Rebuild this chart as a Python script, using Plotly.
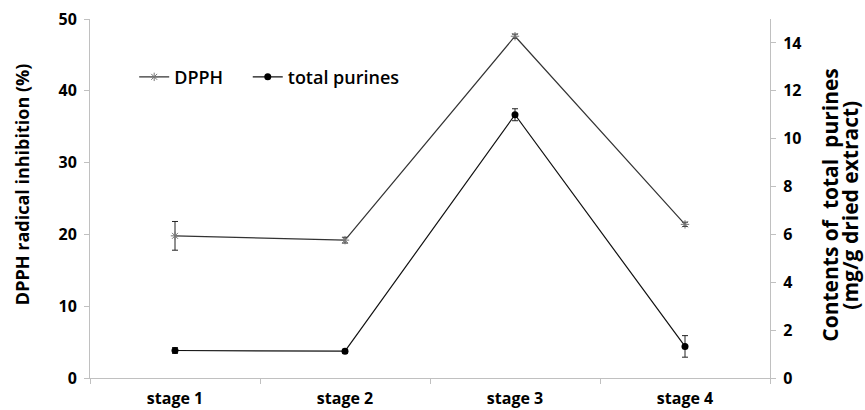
import plotly.graph_objects as go

# Harvest stages
stages = ["stage 1", "stage 2", "stage 3", "stage 4"]

# DPPH radical inhibition (%), mean and SD
dpph = [19.8, 19.2, 47.6, 21.4]
dpph_sd = [2.0, 0.4, 0.3, 0.3]

# Total purine content (mg/g dried extract), mean and SD
purines = [1.15, 1.12, 11.0, 1.32]
purines_sd = [0.12, 0.08, 0.25, 0.45]

left_ticks = [0, 10, 20, 30, 40, 50]
right_ticks = [0, 2, 4, 6, 8, 10, 12, 14]

FONT = "Open Sans"
AXIS_GREY = "#c0c0c0"
TICK_FONT = dict(size=16, family=FONT, weight="bold")
LEGEND_FONT = dict(size=18, family=FONT, weight=600)

fig = go.Figure()

fig.add_trace(go.Scatter(
    x=stages, y=dpph, name="DPPH", mode="lines+markers",
    line=dict(color="#333333", width=1.2),
    marker=dict(symbol="asterisk-open", size=7, color="#777777",
                line=dict(color="#777777", width=1)),
    error_y=dict(type="data", array=dpph_sd, visible=True,
                 color="#222222", thickness=1, width=3),
    yaxis="y", legend="legend",
))

fig.add_trace(go.Scatter(
    x=stages, y=purines, name="total purines", mode="lines+markers",
    line=dict(color="#111111", width=1.2),
    marker=dict(symbol="circle", size=7, color="#000000"),
    error_y=dict(type="data", array=purines_sd, visible=True,
                 color="#222222", thickness=1, width=3),
    yaxis="y2", legend="legend2",
))

fig.update_layout(
    width=865, height=410,
    margin=dict(l=90, r=95, t=19, b=32, autoexpand=False),
    paper_bgcolor="white", plot_bgcolor="white",
    font=dict(family=FONT, color="#000000"),
    showlegend=True,
    legend=dict(
        x=0.065, y=0.838, xanchor="left", yanchor="middle",
        bgcolor="rgba(0,0,0,0)", font=LEGEND_FONT, itemwidth=30,
    ),
    legend2=dict(
        x=0.232, y=0.838, xanchor="left", yanchor="middle",
        bgcolor="rgba(0,0,0,0)", font=LEGEND_FONT, itemwidth=30,
    ),
    xaxis=dict(
        type="category", range=[-0.5, 3.5], automargin=False,
        showline=True, linecolor=AXIS_GREY, linewidth=1,
        ticks="outside", tickson="boundaries", ticklen=5, tickcolor=AXIS_GREY,
        showgrid=False, zeroline=False,
        tickfont=TICK_FONT, ticklabelstandoff=6,
    ),
    yaxis=dict(
        range=[0, 50], tickvals=left_ticks, automargin=False,
        showline=True, linecolor=AXIS_GREY, linewidth=1,
        ticks="outside", ticklen=5, tickcolor=AXIS_GREY,
        showgrid=False, zeroline=False,
        tickfont=TICK_FONT, ticklabelstandoff=4,
    ),
    yaxis2=dict(
        range=[0, 15], tickvals=right_ticks, overlaying="y", side="right",
        automargin=False,
        showline=True, linecolor=AXIS_GREY, linewidth=1,
        ticks="outside", ticklen=5, tickcolor=AXIS_GREY,
        showgrid=False, zeroline=False,
        tickfont=TICK_FONT, ticklabelstandoff=4,
    ),
)

# Left axis title
fig.add_annotation(
    text="DPPH radical inhibition (%)",
    xref="paper", yref="paper", x=0.0, y=0.54,
    xanchor="center", yanchor="middle", xshift=-68,
    textangle=-90, showarrow=False,
    font=dict(size=18, family=FONT, weight="bold"),
)

# Right axis title, two lines
RIGHT_TITLE_FONT = dict(size=21, family=FONT, weight="bold")
fig.add_annotation(
    text="Contents of&nbsp; total&nbsp; purines",
    xref="paper", yref="paper", x=1.0, y=0.48,
    xanchor="center", yanchor="middle", xshift=60,
    textangle=-90, showarrow=False, font=RIGHT_TITLE_FONT,
)
fig.add_annotation(
    text="(mg/g dried extract)",
    xref="paper", yref="paper", x=1.0, y=0.48,
    xanchor="center", yanchor="middle", xshift=80,
    textangle=-90, showarrow=False, font=RIGHT_TITLE_FONT,
)

fig.write_html("out.html")
